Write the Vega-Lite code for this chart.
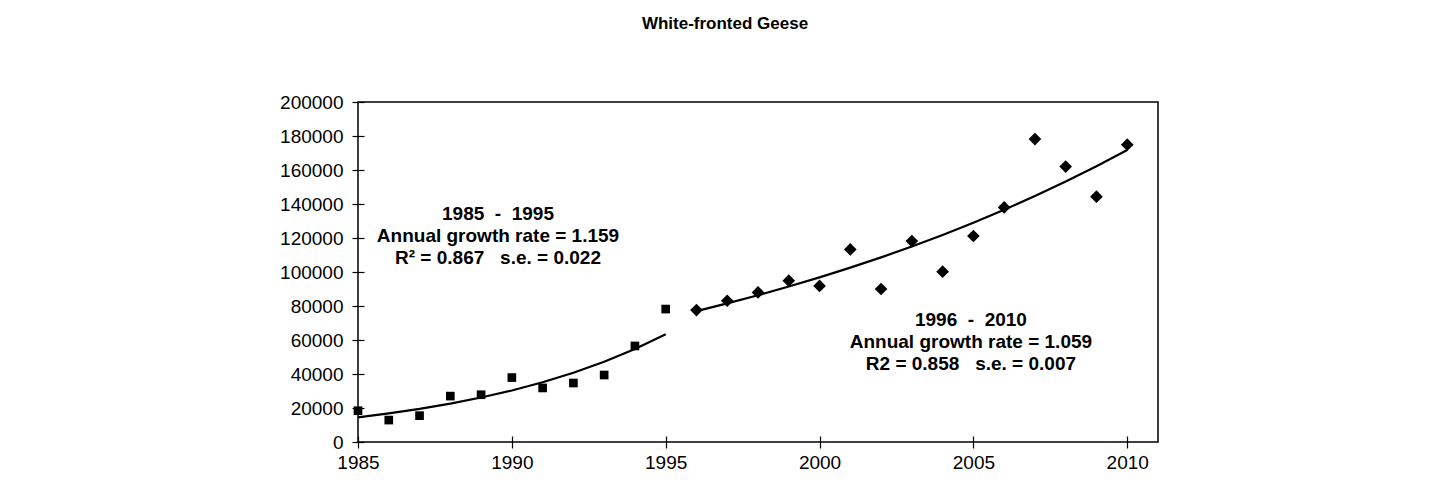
{
  "$schema": "https://vega.github.io/schema/vega-lite/v6.json",
  "width": 800,
  "height": 340,
  "autosize": "none",
  "padding": {"left": 358, "top": 102, "right": 293, "bottom": 60},
  "background": "white",
  "config": {
    "font": "Liberation Sans",
    "view": {"stroke": "black", "strokeWidth": 1.5},
    "axis": {
      "grid": false,
      "title": null,
      "labelFont": "Liberation Sans",
      "labelFontSize": 19,
      "labelColor": "black",
      "labelFlush": false,
      "tickColor": "black",
      "tickWidth": 1.2
    }
  },
  "title": {
    "text": "White-fronted Geese",
    "font": "Liberation Sans",
    "fontSize": 17,
    "fontWeight": "bold",
    "color": "black",
    "anchor": "middle",
    "dx": -33,
    "offset": 60
  },
  "datasets": {
    "obs": [
      {"year": 1985, "count": 18400, "period": "1985-1995"},
      {"year": 1986, "count": 12900, "period": "1985-1995"},
      {"year": 1987, "count": 15500, "period": "1985-1995"},
      {"year": 1988, "count": 27000, "period": "1985-1995"},
      {"year": 1989, "count": 27800, "period": "1985-1995"},
      {"year": 1990, "count": 37900, "period": "1985-1995"},
      {"year": 1991, "count": 31800, "period": "1985-1995"},
      {"year": 1992, "count": 34700, "period": "1985-1995"},
      {"year": 1993, "count": 39400, "period": "1985-1995"},
      {"year": 1994, "count": 56500, "period": "1985-1995"},
      {"year": 1995, "count": 78200, "period": "1985-1995"},
      {"year": 1996, "count": 77600, "period": "1996-2010"},
      {"year": 1997, "count": 83100, "period": "1996-2010"},
      {"year": 1998, "count": 88000, "period": "1996-2010"},
      {"year": 1999, "count": 94900, "period": "1996-2010"},
      {"year": 2000, "count": 91800, "period": "1996-2010"},
      {"year": 2001, "count": 113300, "period": "1996-2010"},
      {"year": 2002, "count": 90000, "period": "1996-2010"},
      {"year": 2003, "count": 118200, "period": "1996-2010"},
      {"year": 2004, "count": 100200, "period": "1996-2010"},
      {"year": 2005, "count": 121200, "period": "1996-2010"},
      {"year": 2006, "count": 138000, "period": "1996-2010"},
      {"year": 2007, "count": 178200, "period": "1996-2010"},
      {"year": 2008, "count": 162000, "period": "1996-2010"},
      {"year": 2009, "count": 144300, "period": "1996-2010"},
      {"year": 2010, "count": 174900, "period": "1996-2010"}
    ],
    "fit": [
      {"year": 1985, "fitted": 14500, "period": "1985-1995"},
      {"year": 1986, "fitted": 16806, "period": "1985-1995"},
      {"year": 1987, "fitted": 19478, "period": "1985-1995"},
      {"year": 1988, "fitted": 22575, "period": "1985-1995"},
      {"year": 1989, "fitted": 26165, "period": "1985-1995"},
      {"year": 1990, "fitted": 30325, "period": "1985-1995"},
      {"year": 1991, "fitted": 35147, "period": "1985-1995"},
      {"year": 1992, "fitted": 40736, "period": "1985-1995"},
      {"year": 1993, "fitted": 47213, "period": "1985-1995"},
      {"year": 1994, "fitted": 54720, "period": "1985-1995"},
      {"year": 1995, "fitted": 63421, "period": "1985-1995"},
      {"year": 1996, "fitted": 77000, "period": "1996-2010"},
      {"year": 1997, "fitted": 81543, "period": "1996-2010"},
      {"year": 1998, "fitted": 86354, "period": "1996-2010"},
      {"year": 1999, "fitted": 91449, "period": "1996-2010"},
      {"year": 2000, "fitted": 96845, "period": "1996-2010"},
      {"year": 2001, "fitted": 102559, "period": "1996-2010"},
      {"year": 2002, "fitted": 108610, "period": "1996-2010"},
      {"year": 2003, "fitted": 115018, "period": "1996-2010"},
      {"year": 2004, "fitted": 121804, "period": "1996-2010"},
      {"year": 2005, "fitted": 128990, "period": "1996-2010"},
      {"year": 2006, "fitted": 136600, "period": "1996-2010"},
      {"year": 2007, "fitted": 144660, "period": "1996-2010"},
      {"year": 2008, "fitted": 153195, "period": "1996-2010"},
      {"year": 2009, "fitted": 162233, "period": "1996-2010"},
      {"year": 2010, "fitted": 171805, "period": "1996-2010"}
    ],
    "notes": [
      {"x": 1989.55, "y": 134100, "lines": ["1985\u00a0\u00a0-\u00a0\u00a01995", "Annual growth rate = 1.159", "R² = 0.867\u00a0\u00a0\u00a0s.e. = 0.022"]},
      {"x": 2004.92, "y": 71800, "lines": ["\u00a0\u00a0\u00a01996\u00a0\u00a0-\u00a0\u00a02010", "Annual growth rate = 1.059", "\u00a0\u00a0\u00a0\u00a0R2 = 0.858\u00a0\u00a0\u00a0s.e. = 0.007"]}
    ]
  },
  "layer": [
    {
      "data": {"name": "fit"},
      "mark": {"type": "line", "color": "black", "strokeWidth": 2.2},
      "encoding": {
        "x": {
          "field": "year", "type": "quantitative",
          "scale": {"domain": [1985, 2011], "nice": false, "zero": false},
          "axis": {
            "orient": "bottom",
            "values": [1985, 1990, 1995, 2000, 2005, 2010],
            "format": "d",
            "domain": false,
            "offset": -6,
            "tickSize": 12,
            "labelPadding": 5
          }
        },
        "y": {
          "field": "fitted", "type": "quantitative",
          "scale": {"domain": [0, 200000], "nice": false},
          "axis": {
            "orient": "left",
            "values": [0, 20000, 40000, 60000, 80000, 100000, 120000, 140000, 160000, 180000, 200000],
            "format": "d",
            "domain": false,
            "offset": -6,
            "tickSize": 12,
            "labelPadding": 9
          }
        },
        "detail": {"field": "period"}
      }
    },
    {
      "data": {"name": "obs"},
      "transform": [{"filter": "datum.period === '1985-1995'"}],
      "mark": {"type": "point", "shape": "square", "filled": true, "color": "black", "opacity": 1, "size": 75},
      "encoding": {
        "x": {"field": "year", "type": "quantitative", "scale": {"domain": [1985, 2011], "nice": false, "zero": false}, "axis": null},
        "y": {"field": "count", "type": "quantitative", "scale": {"domain": [0, 200000], "nice": false}, "axis": null}
      }
    },
    {
      "data": {"name": "obs"},
      "transform": [{"filter": "datum.period === '1996-2010'"}],
      "mark": {"type": "point", "shape": "diamond", "filled": true, "color": "black", "opacity": 1, "size": 160},
      "encoding": {
        "x": {"field": "year", "type": "quantitative", "scale": {"domain": [1985, 2011], "nice": false, "zero": false}, "axis": null},
        "y": {"field": "count", "type": "quantitative", "scale": {"domain": [0, 200000], "nice": false}, "axis": null}
      }
    },
    {
      "data": {"name": "notes"},
      "mark": {"type": "text", "font": "Liberation Sans", "fontWeight": "bold", "fontSize": 19, "color": "black", "align": "center", "baseline": "middle", "lineHeight": 22},
      "encoding": {
        "x": {"field": "x", "type": "quantitative", "scale": {"domain": [1985, 2011], "nice": false, "zero": false}, "axis": null},
        "y": {"field": "y", "type": "quantitative", "scale": {"domain": [0, 200000], "nice": false}, "axis": null},
        "text": {"field": "lines"}
      }
    }
  ],
  "resolve": {"scale": {"x": "independent", "y": "independent"}, "axis": {"x": "independent", "y": "independent"}}
}
